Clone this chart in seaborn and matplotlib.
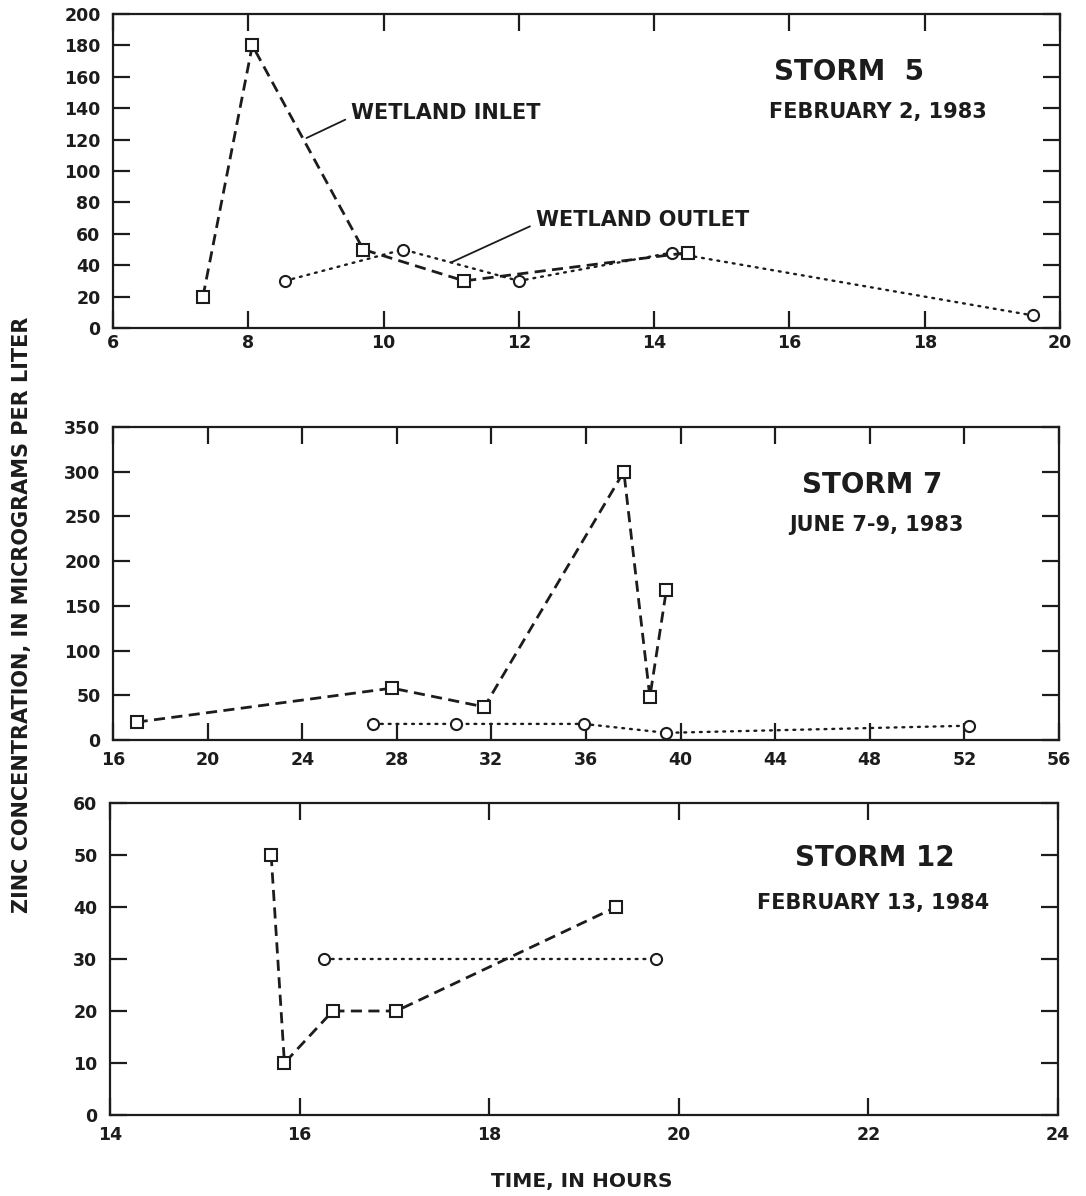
import matplotlib
matplotlib.use("Agg")
import matplotlib.pyplot as plt
import pandas as pd
import seaborn as sns

# Storm 5 - February 2, 1983
s5_inlet_time = [7.33, 8.06, 9.70, 11.19, 14.50]
s5_inlet_zinc = [20, 180, 50, 30, 48]
s5_outlet_time = [8.54, 10.29, 12.00, 14.26, 19.60]
s5_outlet_zinc = [30, 50, 30, 48, 8]

# Storm 7 - June 7-9, 1983
s7_inlet_time = [17.0, 27.8, 31.7, 37.6, 38.7, 39.4]
s7_inlet_zinc = [20, 58, 37, 300, 48, 168]
s7_outlet_time = [27.0, 30.5, 35.9, 39.4, 52.2]
s7_outlet_zinc = [18, 18, 18, 8, 16]

# Storm 12 - February 13, 1984
s12_inlet_time = [15.70, 15.84, 16.35, 17.02, 19.34]
s12_inlet_zinc = [50, 10, 20, 20, 40]
s12_outlet_time = [16.26, 19.76]
s12_outlet_zinc = [30, 30]

storm_titles = ["STORM  5", "STORM 7", "STORM 12"]
storm_dates = ["FEBRUARY 2, 1983", "JUNE 7-9, 1983", "FEBRUARY 13, 1984"]
x_ticks = [list(range(6, 21, 2)), list(range(16, 57, 4)), list(range(14, 25, 2))]
y_ticks = [list(range(0, 201, 20)), list(range(0, 351, 50)), list(range(0, 61, 10))]

INK = "#1c1c1c"

sns.set_theme(style="white")
plt.rcParams["font.family"] = ["DejaVu Sans"]
plt.rcParams["font.weight"] = "bold"

fig = plt.figure(figsize=(10.86, 11.96), dpi=100)
W, H = 1086, 1196
boxes = [(113, 14, 1060, 328), (113, 427, 1059, 740), (110, 803, 1058, 1115)]
axes = [fig.add_axes([l / W, 1 - b / H, (r - l) / W, (b - t) / H]) for l, t, r, b in boxes]

series = [
    (s5_inlet_time, s5_inlet_zinc, s5_outlet_time, s5_outlet_zinc),
    (s7_inlet_time, s7_inlet_zinc, s7_outlet_time, s7_outlet_zinc),
    (s12_inlet_time, s12_inlet_zinc, s12_outlet_time, s12_outlet_zinc),
]
title_pos = [((0.777, 0.815), (0.808, 0.688)),
             ((0.802, 0.815), (0.807, 0.687)),
             ((0.807, 0.824), (0.805, 0.679))]
xpads = [4, 8, 8]

for i, ax in enumerate(axes):
    it, iz, ot, oz = series[i]
    inlet = pd.DataFrame({"time": it, "zinc": iz})
    outlet = pd.DataFrame({"time": ot, "zinc": oz})
    sns.lineplot(data=outlet, x="time", y="zinc", ax=ax, estimator=None, sort=False,
                 color=INK, lw=1.7, linestyle=(0, (0.8, 2.5)), dash_capstyle="round",
                 marker="o", markersize=8, markerfacecolor="white",
                 markeredgecolor=INK, markeredgewidth=1.5)
    sns.lineplot(data=inlet, x="time", y="zinc", ax=ax, estimator=None, sort=False,
                 color=INK, lw=2.0, linestyle=(0, (4, 2.3)),
                 marker="s", markersize=8, markerfacecolor="white",
                 markeredgecolor=INK, markeredgewidth=1.5)

    ax.set_xlim(x_ticks[i][0], x_ticks[i][-1])
    ax.set_ylim(y_ticks[i][0], y_ticks[i][-1])
    ax.set_xticks(x_ticks[i])
    ax.set_yticks(y_ticks[i])
    ax.set_xlabel("")
    ax.set_ylabel("")
    ax.tick_params(axis="both", direction="in", length=12, width=1.6, color=INK,
                   labelsize=12.5, labelcolor=INK)
    ax.tick_params(axis="x", top=True, bottom=True, pad=xpads[i])
    ax.tick_params(axis="y", left=True, right=True, pad=9)
    for lab in ax.get_xticklabels() + ax.get_yticklabels():
        lab.set_fontweight("bold")
    for sp in ax.spines.values():
        sp.set_visible(True)
        sp.set_color(INK)
        sp.set_linewidth(1.6)
    ax.set_facecolor("white")

    (tx, ty), (dx, dy) = title_pos[i]
    ax.text(tx, ty, storm_titles[i], transform=ax.transAxes, ha="center", va="center",
            fontsize=20, fontweight="bold", color=INK)
    ax.text(dx, dy, storm_dates[i], transform=ax.transAxes, ha="center", va="center",
            fontsize=15, fontweight="bold", color=INK)

# Series labels with leader lines on the first storm
ax0 = axes[0]
ax0.annotate("WETLAND INLET", xy=(8.86, 121), xytext=(9.52, 137), ha="left", va="center",
             fontsize=15, fontweight="bold", color=INK,
             arrowprops=dict(arrowstyle="-", color=INK, lw=1.3, shrinkA=2, shrinkB=0,
                             relpos=(0, 0.3)))
ax0.annotate("WETLAND OUTLET", xy=(11.01, 42), xytext=(12.25, 69), ha="left", va="center",
             fontsize=15, fontweight="bold", color=INK,
             arrowprops=dict(arrowstyle="-", color=INK, lw=1.3, shrinkA=2, shrinkB=0,
                             relpos=(0, 0.3)))

fig.text(22 / W, 1 - 615 / H, "ZINC CONCENTRATION, IN MICROGRAMS PER LITER",
         rotation=90, ha="center", va="center", fontsize=15, fontweight="bold", color=INK)
fig.text(582 / W, 1 - 1181 / H, "TIME, IN HOURS", ha="center", va="center",
         fontsize=14.5, fontweight="bold", color=INK)

fig.savefig("out.png", dpi=100, facecolor="white")
